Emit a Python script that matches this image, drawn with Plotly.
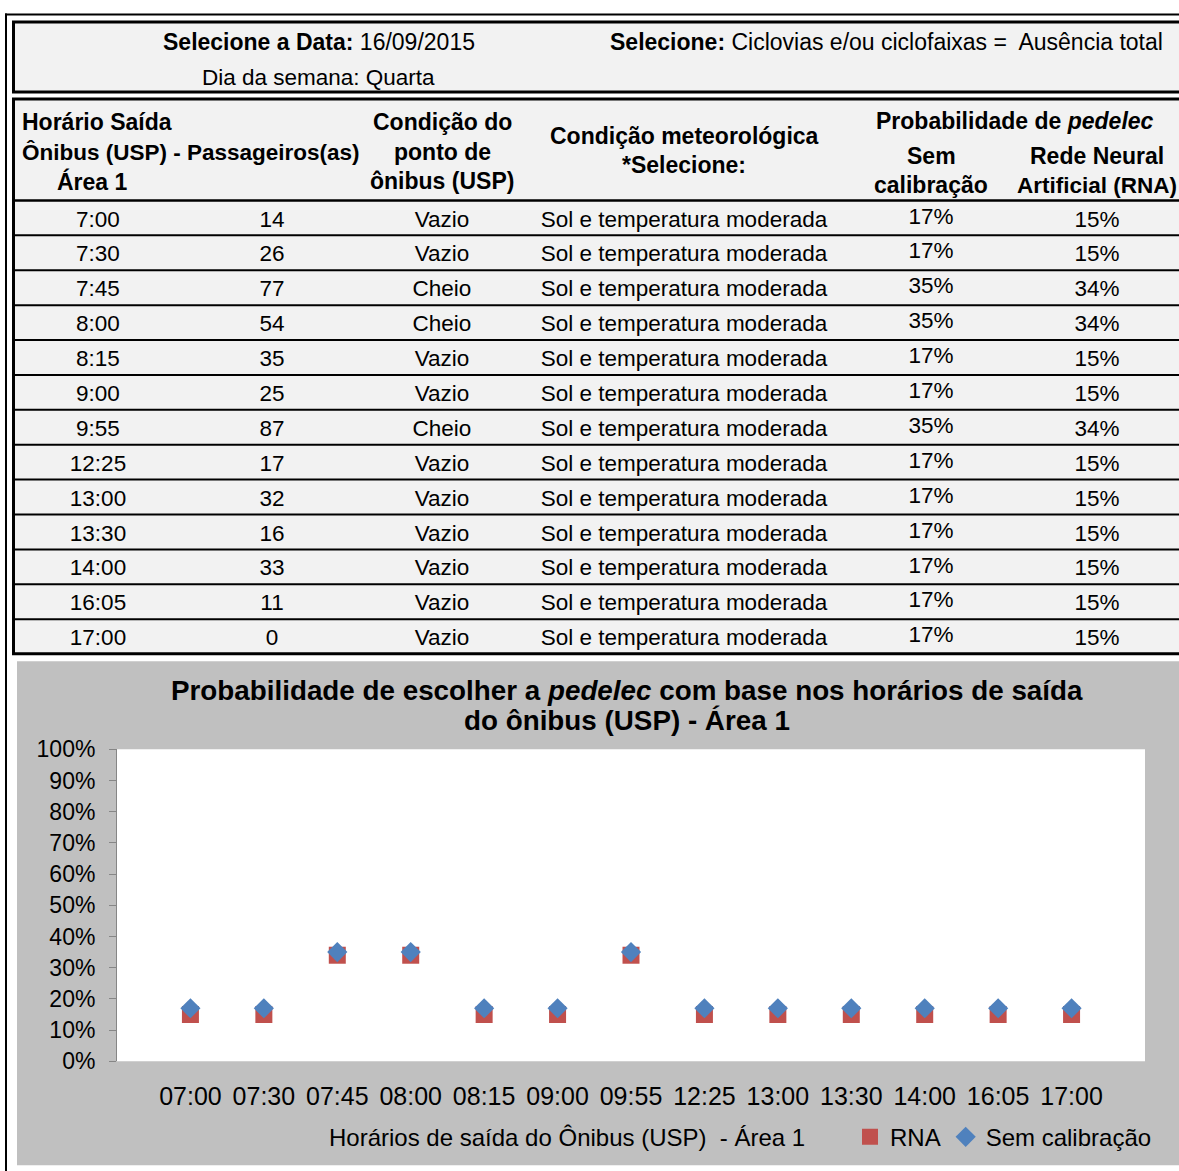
import plotly.graph_objects as go

# ---------------- data ----------------
horarios = ["7:00", "7:30", "7:45", "8:00", "8:15", "9:00", "9:55",
            "12:25", "13:00", "13:30", "14:00", "16:05", "17:00"]
passageiros = [14, 26, 77, 54, 35, 25, 87, 17, 32, 16, 33, 11, 0]
condicao_ponto = ["Vazio", "Vazio", "Cheio", "Cheio", "Vazio", "Vazio", "Cheio",
                  "Vazio", "Vazio", "Vazio", "Vazio", "Vazio", "Vazio"]
condicao_met = ["Sol e temperatura moderada", "Sol e temperatura moderada",
                "Sol e temperatura moderada", "Sol e temperatura moderada",
                "Sol e temperatura moderada", "Sol e temperatura moderada",
                "Sol e temperatura moderada", "Sol e temperatura moderada",
                "Sol e temperatura moderada", "Sol e temperatura moderada",
                "Sol e temperatura moderada", "Sol e temperatura moderada",
                "Sol e temperatura moderada"]
sem_calibracao = [0.17, 0.17, 0.35, 0.35, 0.17, 0.17, 0.35,
                  0.17, 0.17, 0.17, 0.17, 0.17, 0.17]
rna = [0.15, 0.15, 0.34, 0.34, 0.15, 0.15, 0.34,
       0.15, 0.15, 0.15, 0.15, 0.15, 0.15]
chart_labels = ["07:00", "07:30", "07:45", "08:00", "08:15", "09:00", "09:55",
                "12:25", "13:00", "13:30", "14:00", "16:05", "17:00"]
y_ticks = [0, 0.1, 0.2, 0.3, 0.4, 0.5, 0.6, 0.7, 0.8, 0.9, 1.0]

# ---------------- layout helpers ----------------
W, H = 1179, 1171
FONT = "Liberation Sans, Arial, sans-serif"
RED = "#C0504D"
BLUE = "#4F81BD"

# the capture maps figure rows slightly differently; compensate
Y_OFF, Y_SCALE = 12.5, 0.978


def px(x):
    return x / W


def ydesign(y):
    return (y - Y_OFF) / Y_SCALE


def py(y):
    return 1 - ydesign(y) / H


ROW_TOP = 200
ROW_H = 34.9

fig = go.Figure()

# chart traces
fig.add_trace(go.Scatter(
    x=chart_labels, y=rna, mode="markers", name="RNA",
    marker=dict(symbol="square", size=17, color=RED, line=dict(width=0)),
    xaxis="x", yaxis="y", hoverinfo="skip"))
fig.add_trace(go.Scatter(
    x=chart_labels, y=sem_calibracao, mode="markers", name="Sem calibração",
    marker=dict(symbol="diamond", size=15.5, color=BLUE, line=dict(width=0)),
    xaxis="x", yaxis="y", hoverinfo="skip"))

# table cell traces (pixel-like hidden axes)
row_y = [ydesign(ROW_TOP + ROW_H * (i + 0.5) + 3) for i in range(len(horarios))]
row_y_pct = [v - 3 for v in row_y]
columns = [
    (98, horarios, row_y),
    (272, [str(v) for v in passageiros], row_y),
    (442, condicao_ponto, row_y),
    (684, condicao_met, row_y),
    (931, [f"{v:.0%}" for v in sem_calibracao], row_y_pct),
    (1097, [f"{v:.0%}" for v in rna], row_y),
]
for cx, texts, ys in columns:
    fig.add_trace(go.Scatter(
        x=[cx] * len(texts), y=ys, text=texts, mode="text",
        textposition="middle center",
        textfont=dict(family=FONT, size=22.5, color="black"),
        xaxis="x2", yaxis="y2", hoverinfo="skip", showlegend=False))

# ---------------- shapes ----------------
shapes = []


def line(x0, y0, x1, y1, w=2, color="black"):
    shapes.append(dict(type="line", xref="paper", yref="paper",
                       x0=px(x0), y0=py(y0), x1=px(x1), y1=py(y1),
                       line=dict(color=color, width=w), layer="below"))


def rect(x0, y0, x1, y1, fill, lw=0, lc="black"):
    shapes.append(dict(type="rect", xref="paper", yref="paper",
                       x0=px(x0), y0=py(y0), x1=px(x1), y1=py(y1),
                       fillcolor=fill, line=dict(color=lc, width=lw),
                       layer="below"))


# outer frame
line(5, 14, 1190, 14, 2)
line(6, 13, 6, 1200, 2)
# header box and table box
rect(13.5, 21.5, 1195, 91.5, "#F2F2F2", 3)
rect(13.5, 98.5, 1195, 653.5, "#F2F2F2", 3)
# header separator and row separators
line(15, ROW_TOP, 1190, ROW_TOP, 2.5)
for k in range(1, len(horarios)):
    line(15, ROW_TOP + ROW_H * k, 1190, ROW_TOP + ROW_H * k, 2)
# chart area
rect(17, 661, 1195, 1165, "#C0C0C0")
rect(117, 749, 1145, 1061, "white")

# ---------------- annotations ----------------
ann = []


def text(x, y, t, size=23, anchor="center", bold=False):
    if bold:
        t = f"<b>{t}</b>"
    ann.append(dict(xref="paper", yref="paper", x=px(x), y=py(y), text=t,
                    showarrow=False, xanchor=anchor, yanchor="middle",
                    font=dict(family=FONT, size=size, color="black")))


# top info box
text(161, 42, "<b>Selecione a Data:</b> 16/09/2015", anchor="left")
text(200, 77, "Dia da semana: Quarta", size=22.5, anchor="left")
text(608, 42, "<b>Selecione:</b> Ciclovias e/ou ciclofaixas =  Ausência total",
     anchor="left")
# table header
text(20, 122, "Horário Saída", anchor="left", bold=True)
text(20, 152, "Ônibus (USP) - Passageiros(as)", size=22.5, anchor="left", bold=True)
text(92, 181, "Área 1", bold=True)
text(442, 122, "Condição do", bold=True)
text(442, 152, "ponto de", bold=True)
text(442, 181, "ônibus (USP)", bold=True)
text(684, 136, "Condição meteorológica", bold=True)
text(684, 165, "*Selecione:", bold=True)
text(1015, 121, "Probabilidade de <i>pedelec</i>", bold=True)
text(931, 156, "Sem", bold=True)
text(931, 185, "calibração", bold=True)
text(1097, 156, "Rede Neural", bold=True)
text(1097, 185, "Artificial (RNA)", size=22.5, bold=True)
# chart title and axis title
text(627, 690, "Probabilidade de escolher a <i>pedelec</i> com base nos horários de saída",
     size=27.8, bold=True)
text(627, 720, "do ônibus (USP) - Área 1", size=27.8, bold=True)
text(567, 1137, "Horários de saída do Ônibus (USP)  - Área 1", size=24)

fig.update_layout(
    width=W, height=H,
    margin=dict(l=0, r=0, t=0, b=0),
    paper_bgcolor="white",
    plot_bgcolor="rgba(0,0,0,0)",
    shapes=shapes,
    annotations=ann,
    showlegend=True,
    legend=dict(orientation="h", x=px(850), y=py(1137), xanchor="left",
                yanchor="middle", font=dict(family=FONT, size=24, color="black"),
                bgcolor="rgba(0,0,0,0)", itemwidth=30, traceorder="normal"),
    xaxis=dict(domain=[px(117), px(1145)], type="category",
               categoryorder="array", categoryarray=chart_labels,
               range=[-1, 13], showline=False, showgrid=False, zeroline=False,
               ticks="", tickfont=dict(family=FONT, size=25, color="black"),
               ticklabelstandoff=18, fixedrange=True),
    yaxis=dict(domain=[py(1061), py(749)], range=[0, 1], tickvals=y_ticks,
               tickformat=".0%", showline=True, linecolor="#868686",
               linewidth=1, ticks="outside", ticklen=7, tickcolor="#868686",
               showgrid=False, zeroline=False,
               tickfont=dict(family=FONT, size=23, color="black"),
               ticklabelstandoff=9, fixedrange=True),
    xaxis2=dict(domain=[0, 1], range=[0, W], visible=False, fixedrange=True,
                anchor="y2"),
    yaxis2=dict(domain=[0, 1], range=[H, 0], visible=False, fixedrange=True,
                anchor="x2"),
)

fig.write_html("out.html", config={"displayModeBar": False},
               post_script="document.body.style.margin='0';"
                           "document.body.style.overflow='hidden';")
